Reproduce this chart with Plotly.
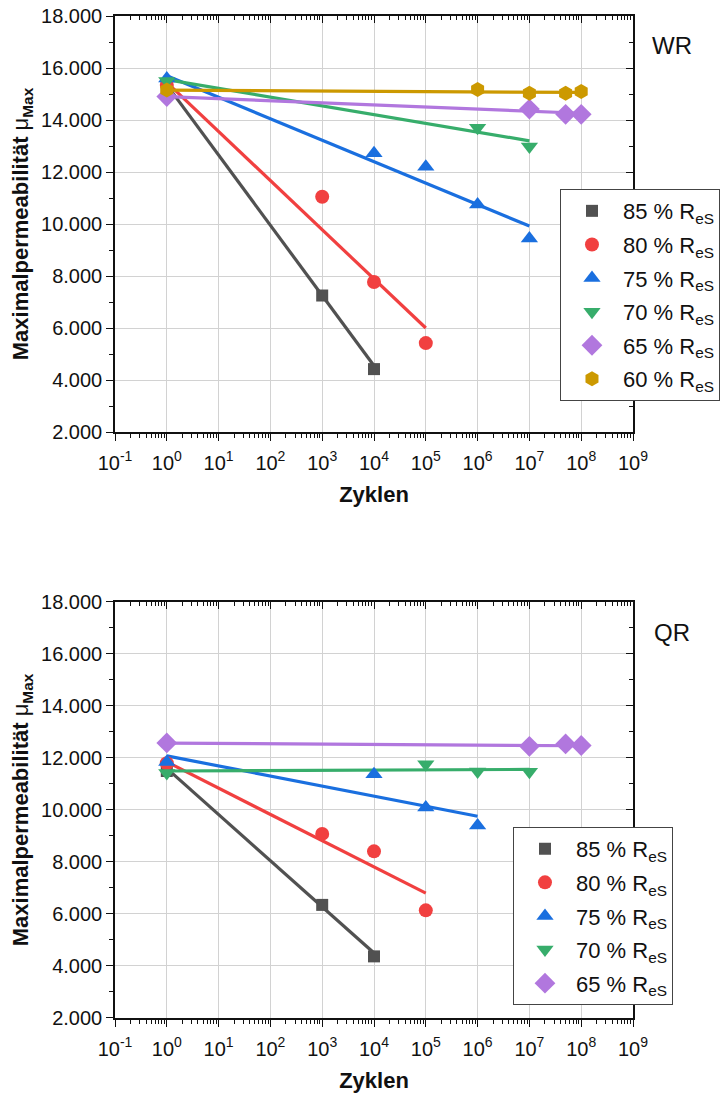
import plotly.graph_objects as go

# ---- data -------------------------------------------------------------
labels = ["85 % R<sub>eS</sub>", "80 % R<sub>eS</sub>", "75 % R<sub>eS</sub>",
          "70 % R<sub>eS</sub>", "65 % R<sub>eS</sub>", "60 % R<sub>eS</sub>"]
colors = ["#515151", "#F14040", "#1A6FDF", "#37AD6B", "#B177DE", "#CC9900"]
symbols = ["square", "circle", "triangle-up", "triangle-down", "diamond", "hexagon"]
msizes = [12, 14, 15, 15, 16, 15]

# WR: measured points
wr_x = [
    [1, 1e3, 1e4],
    [1, 1e3, 1e4, 1e5],
    [1, 1e4, 1e5, 1e6, 1e7],
    [1, 1e6, 1e7],
    [1, 1e7, 5e7, 1e8],
    [1, 1e6, 1e7, 5e7, 1e8],
]
wr_y = [
    [15300, 7250, 4420],
    [15350, 11050, 7770, 5420],
    [15600, 12720, 12200, 10750, 9440],
    [15500, 13700, 12980],
    [14900, 14420, 14220, 14220],
    [15150, 15170, 15030, 15030, 15100],
]
# WR: linear fits (in log10 of cycles) start/end
wr_fit_x = [[1, 1e4], [1, 1e5], [1, 1e7], [1, 1e7], [1, 1e8], [1, 1e8]]
wr_fit_y = [[15350, 4550], [15450, 6000], [15700, 9920],
            [15550, 13200], [14900, 14260], [15150, 15060]]

# QR: measured points
qr_x = [
    [1, 1e3, 1e4],
    [1, 1e3, 1e4, 1e5],
    [1, 1e4, 1e5, 1e6],
    [1, 1e5, 1e6, 1e7],
    [1, 1e7, 5e7, 1e8],
]
qr_y = [
    [11500, 6350, 4370],
    [11800, 9080, 8410, 6140],
    [11850, 11370, 10100, 9400],
    [11420, 11760, 11480, 11470],
    [12580, 12450, 12540, 12480],
]
qr_fit_x = [[1, 1e4], [1, 1e5], [1, 1e6], [1, 1e7], [1, 1e8]]
qr_fit_y = [[11600, 4500], [11850, 6800], [12080, 9760],
            [11500, 11560], [12570, 12470]]

y_ticks = list(range(2000, 18001, 2000))
x_exponents = list(range(-1, 10))
x_ticks = [10.0 ** e for e in x_exponents]
x_ticktext = [f"10<sup>{e}</sup>" for e in x_exponents]

FONT = "Liberation Sans, Arial, sans-serif"

fig = go.Figure()


def add_panel(xs, ys, fxs, fys, xa, ya, legend):
    n = len(xs)
    for i in range(n):
        fig.add_trace(go.Scatter(
            x=fxs[i], y=fys[i], mode="lines", xaxis=xa, yaxis=ya,
            line=dict(color=colors[i], width=3.2),
            showlegend=False, hoverinfo="skip"))
    for i in range(n):
        fig.add_trace(go.Scatter(
            x=xs[i], y=ys[i], mode="markers", xaxis=xa, yaxis=ya,
            name=labels[i], legend=legend, legendgroup=f"{legend}{i}",
            marker=dict(symbol=symbols[i], color=colors[i], size=msizes[i],
                        line=dict(width=0))))


add_panel(wr_x, wr_y, wr_fit_x, wr_fit_y, "x", "y", "legend")
add_panel(qr_x, qr_y, qr_fit_x, qr_fit_y, "x2", "y2", "legend2")

# invisible traces so the mirrored (inward-tick) frame axes are drawn
for xa, ya in (("x3", "y3"), ("x4", "y4")):
    fig.add_trace(go.Scatter(x=[1], y=[10000], xaxis=xa, yaxis=ya,
                             mode="markers", marker=dict(opacity=0),
                             showlegend=False, hoverinfo="skip"))

tickfont = dict(family=FONT, size=20, color="#111")
titlefont = dict(family=FONT, size=22, color="#111")

xcommon = dict(
    type="log", range=[-1, 9], tickvals=x_ticks, ticktext=x_ticktext,
    showline=True, linecolor="#111", linewidth=1.6,
    ticks="outside", ticklen=7, tickwidth=1.4, tickcolor="#111",
    ticklabelstandoff=5,
    showgrid=True, gridcolor="#d2d2d2", gridwidth=1.3,
    minor=dict(ticks="outside", ticklen=4, tickwidth=1.2, tickcolor="#111",
               dtick="D1", showgrid=False),
    tickfont=tickfont, zeroline=False,
)
ycommon = dict(
    range=[2000, 18000], tickvals=y_ticks, tickformat=",d",
    showline=True, linecolor="#111", linewidth=1.6,
    ticks="outside", ticklen=7, tickwidth=1.4, tickcolor="#111",
    showgrid=True, gridcolor="#d2d2d2", gridwidth=1.3,
    minor=dict(ticks="outside", ticklen=4, tickwidth=1.2, tickcolor="#111",
               dtick=1000, tick0=0, showgrid=False),
    tickfont=tickfont, zeroline=False,
)
xframe = dict(
    type="log", range=[-1, 9], dtick=1, side="top",
    showline=True, linecolor="#111", linewidth=1.6,
    ticks="inside", ticklen=7, tickwidth=1.4, tickcolor="#111",
    minor=dict(ticks="inside", ticklen=4, tickwidth=1.2, tickcolor="#111",
               dtick="D1", showgrid=False),
    showticklabels=False, showgrid=False, zeroline=False,
)
yframe = dict(
    range=[2000, 18000], tickvals=y_ticks, side="right",
    showline=True, linecolor="#111", linewidth=1.6,
    ticks="inside", ticklen=7, tickwidth=1.4, tickcolor="#111",
    minor=dict(ticks="inside", ticklen=4, tickwidth=1.2, tickcolor="#111",
               dtick=1000, tick0=0, showgrid=False),
    showticklabels=False, showgrid=False, zeroline=False,
)

ytitle = dict(text="<b>Maximalpermeabilität</b> μ<sub><b>Max</b></sub>",
              font=titlefont, standoff=6)
xtitle = dict(text="<b>Zyklen</b>", font=titlefont, standoff=14)

top_dom = [0.5848, 1.0]
bot_dom = [0.0, 0.4152]

legend_style = dict(xref="container", yref="container",
                    xanchor="left", yanchor="top",
                    bgcolor="white", bordercolor="#444", borderwidth=1,
                    font=dict(family=FONT, size=22, color="#111"),
                    tracegroupgap=2, itemwidth=52)

fig.update_layout(
    width=722, height=1094,
    margin=dict(l=115, r=89, t=16, b=76, autoexpand=False),
    paper_bgcolor="white", plot_bgcolor="white",
    separators=",.",
    font=dict(family=FONT, color="#111"),
    xaxis=dict(**xcommon, anchor="y", domain=[0, 1], title=xtitle),
    yaxis=dict(**ycommon, anchor="x", domain=top_dom, title=ytitle),
    xaxis2=dict(**xcommon, anchor="y2", domain=[0, 1], title=xtitle),
    yaxis2=dict(**ycommon, anchor="x2", domain=bot_dom, title=ytitle),
    xaxis3=dict(**xframe, overlaying="x", anchor="y3"),
    yaxis3=dict(**yframe, overlaying="y", anchor="x3"),
    xaxis4=dict(**xframe, overlaying="x2", anchor="y4"),
    yaxis4=dict(**yframe, overlaying="y2", anchor="x4"),
    legend=dict(x=0.7756, y=0.8272, **legend_style),
    legend2=dict(x=0.7105, y=0.2441, **legend_style),
    annotations=[
        dict(text="WR", x=1.075, y=0.971, xref="paper", yref="paper",
             xanchor="center", yanchor="middle", showarrow=False,
             font=dict(family=FONT, size=24, color="#111")),
        dict(text="QR", x=1.075, y=0.385, xref="paper", yref="paper",
             xanchor="center", yanchor="middle", showarrow=False,
             font=dict(family=FONT, size=24, color="#111")),
    ],
)

fig.write_html("out.html")
